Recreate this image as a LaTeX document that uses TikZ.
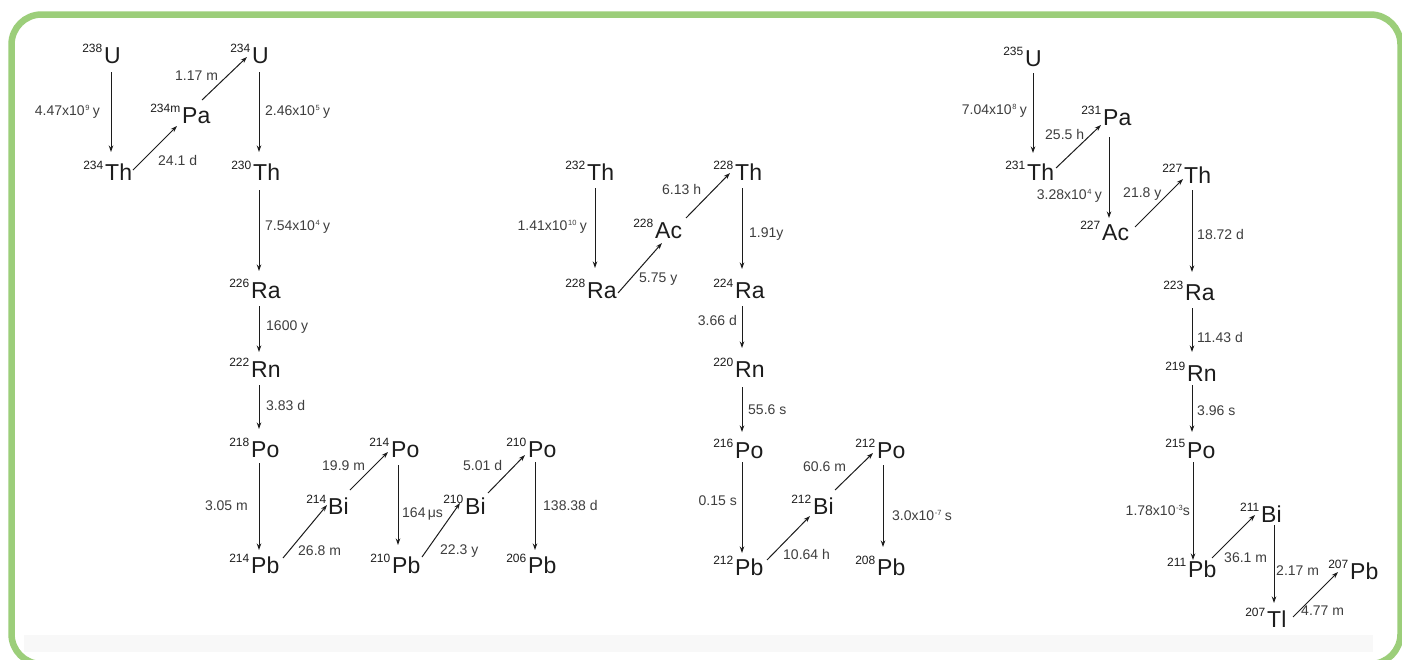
\documentclass[tikz,border=0pt]{standalone}
\usepackage{fontspec}
\setmainfont{Liberation Sans}
\usetikzlibrary{arrows.meta}

\definecolor{framegreen}{RGB}{156,206,122}
\definecolor{ink}{RGB}{28,28,28}
\definecolor{lbl}{RGB}{62,62,62}
\definecolor{band}{RGB}{248,248,248}

% power of ten with a small raised exponent, as in the half-life labels
\newcommand{\tenpow}[1]{x10\kern0.6pt\raisebox{5.5pt}{\fontsize{7.5}{7.5}\selectfont #1}}
% one nuclide: element symbol node plus its mass-number node
\newcommand{\nuclide}[5]{%
  \node[nuc] (#1) at (#2,#3) {#5};
  \node[mass] (#1-A) at ([shift={(-1.5,-10.5)}]#1.base west) {#4};}

\begin{document}
\begin{tikzpicture}[x=1pt,y=-1pt,
  nuc/.style={anchor=base west, inner sep=0pt, font=\fontsize{23}{23}\selectfont, text=ink},
  mass/.style={anchor=base east, inner sep=0pt, font=\fontsize{12}{12}\selectfont, text=ink},
  hl/.style={inner sep=0pt, font=\fontsize{14}{14}\selectfont, text=lbl},
  lft/.style={hl, anchor=mid east},
  rgt/.style={hl, anchor=mid west},
  decay/.style={draw=ink, line width=1pt, -{Stealth[length=6.5pt,width=4.5pt]}},
]
\useasboundingbox (0,0) rectangle (1402,659);
\clip (0,0) rectangle (1402,659);

% panel
\fill[white] (0,0) rectangle (1402,659);
\fill[band] (24,635) rectangle (1373,652);
\draw[framegreen, line width=6.5pt, rounded corners=30pt] (11.5,14.5) rectangle (1400.5,664);

% ---- uranium-238 series ----
\nuclide{U238}{104}{63}{238}{U}
\nuclide{Th234}{105}{180}{234}{Th}
\nuclide{Pa234}{182}{123}{234m}{Pa}
\nuclide{U234}{252}{63}{234}{U}
\nuclide{Th230}{253}{180}{230}{Th}
\nuclide{Ra226}{251}{298}{226}{Ra}
\nuclide{Rn222}{251}{377}{222}{Rn}
\nuclide{Po218}{251}{457}{218}{Po}
\nuclide{Pb214}{251}{573}{214}{Pb}
\nuclide{Bi214}{328}{514}{214}{Bi}
\nuclide{Po214}{391}{457}{214}{Po}
\nuclide{Pb210}{392}{573}{210}{Pb}
\nuclide{Bi210}{465}{514}{210}{Bi}
\nuclide{Po210}{528}{457}{210}{Po}
\nuclide{Pb206}{528}{573}{206}{Pb}

\draw[decay] ([shift={(7,9)}]U238.base west) -- ([shift={(6,-28)}]Th234.base west);
\draw[decay] ([shift={(28,-10)}]Th234.base west) -- ([shift={(-5,3)}]Pa234.base west);
\draw[decay] ([shift={(20,-23)}]Pa234.base west) -- ([shift={(-5,-6)}]U234.base west);
\draw[decay] ([shift={(7,9)}]U234.base west) -- ([shift={(6,-28)}]Th230.base west);
\draw[decay] ([shift={(6,10)}]Th230.base west) -- ([shift={(8,-27)}]Ra226.base west);
\draw[decay] ([shift={(8,8)}]Ra226.base west) -- ([shift={(8,-25)}]Rn222.base west);
\draw[decay] ([shift={(8,8)}]Rn222.base west) -- ([shift={(8,-28)}]Po218.base west);
\draw[decay] ([shift={(8,6)}]Po218.base west) -- ([shift={(8,-23)}]Pb214.base west);
\draw[decay] ([shift={(32,-15)}]Pb214.base west) -- ([shift={(-1,-9)}]Bi214.base west);
\draw[decay] ([shift={(22,-24)}]Bi214.base west) -- ([shift={(-3,-5)}]Po214.base west);
\draw[decay] ([shift={(7,8)}]Po214.base west) -- ([shift={(6,-28)}]Pb210.base west);
\draw[decay] ([shift={(30,-16)}]Pb210.base west) -- ([shift={(-5,-11)}]Bi210.base west);
\draw[decay] ([shift={(23,-21)}]Bi210.base west) -- ([shift={(-3,-2)}]Po210.base west);
\draw[decay] ([shift={(7,5)}]Po210.base west) -- ([shift={(7,-23)}]Pb206.base west);

\node[lft] (h1) at (100,113) {4.47\tenpow{9}\kern1pt\,y};
\node[rgt] (h2) at (158,163) {24.1 d};
\node[rgt] (h3) at (175,78) {1.17 m};
\node[rgt] (h4) at (265,113) {2.46\tenpow{5}\kern1pt\,y};
\node[rgt] (h5) at (265,228) {7.54\tenpow{4}\kern1pt\,y};
\node[rgt] (h6) at (266,328) {1600 y};
\node[rgt] (h7) at (266,408) {3.83 d};
\node[lft] (h8) at (248,508) {3.05 m};
\node[rgt] (h9) at (298,553) {26.8 m};
\node[rgt] (h10) at (322,468) {19.9 m};
\node[rgt] (h11) at (402,515) {164\,μs};
\node[rgt] (h12) at (440,552) {22.3 y};
\node[rgt] (h13) at (463,468) {5.01 d};
\node[rgt] (h14) at (543,508) {138.38 d};

% ---- thorium-232 series ----
\nuclide{Th232}{587}{180}{232}{Th}
\nuclide{Ra228}{587}{298}{228}{Ra}
\nuclide{Ac228}{655}{238}{228}{Ac}
\nuclide{Th228}{735}{180}{228}{Th}
\nuclide{Ra224}{735}{298}{224}{Ra}
\nuclide{Rn220}{735}{377}{220}{Rn}
\nuclide{Po216}{735}{458}{216}{Po}
\nuclide{Pb212}{735}{575}{212}{Pb}
\nuclide{Bi212}{813}{514}{212}{Bi}
\nuclide{Po212}{877}{458}{212}{Po}
\nuclide{Pb208}{877}{575}{208}{Pb}

\draw[decay] ([shift={(8,8)}]Th232.base west) -- ([shift={(8,-30)}]Ra228.base west);
\draw[decay] ([shift={(31,-5)}]Ra228.base west) -- ([shift={(7,5)}]Ac228.base west);
\draw[decay] ([shift={(31,-20)}]Ac228.base west) -- ([shift={(-5,-7)}]Th228.base west);
\draw[decay] ([shift={(7,8)}]Th228.base west) -- ([shift={(7,-29)}]Ra224.base west);
\draw[decay] ([shift={(7,8)}]Ra224.base west) -- ([shift={(7,-29)}]Rn220.base west);
\draw[decay] ([shift={(7,10)}]Rn220.base west) -- ([shift={(7,-26)}]Po216.base west);
\draw[decay] ([shift={(7,4)}]Po216.base west) -- ([shift={(7,-22)}]Pb212.base west);
\draw[decay] ([shift={(32,-15)}]Pb212.base west) -- ([shift={(-3,2)}]Bi212.base west);
\draw[decay] ([shift={(22,-24)}]Bi212.base west) -- ([shift={(-4,-5)}]Po212.base west);
\draw[decay] ([shift={(6,7)}]Po212.base west) -- ([shift={(6,-28)}]Pb208.base west);

\node[lft] (k1) at (587,228) {1.41\tenpow{10}\kern1pt\,y};
\node[rgt] (k2) at (639,280) {5.75 y};
\node[rgt] (k3) at (662,192) {6.13 h};
\node[rgt] (k4) at (749,235) {1.91y};
\node[lft] (k5) at (737,323) {3.66 d};
\node[rgt] (k6) at (748,412) {55.6 s};
\node[lft] (k7) at (737,503) {0.15 s};
\node[rgt] (k8) at (783,557) {10.64 h};
\node[rgt] (k9) at (803,469) {60.6 m};
\node[rgt] (k10) at (892,518) {3.0\tenpow{-7}\kern1pt\,s};

% ---- uranium-235 series ----
\nuclide{U235}{1025}{66}{235}{U}
\nuclide{Th231}{1027}{180}{231}{Th}
\nuclide{Pa231}{1103}{125}{231}{Pa}
\nuclide{Ac227}{1102}{240}{227}{Ac}
\nuclide{Th227}{1184}{183}{227}{Th}
\nuclide{Ra223}{1185}{300}{223}{Ra}
\nuclide{Rn219}{1187}{381}{219}{Rn}
\nuclide{Po215}{1187}{458}{215}{Po}
\nuclide{Pb211}{1188}{577}{211}{Pb}
\nuclide{Bi211}{1261}{522}{211}{Bi}
\nuclide{Tl207}{1267}{627}{207}{Tl}
\nuclide{Pb207}{1350}{579}{207}{Pb}

\draw[decay] ([shift={(8,7)}]U235.base west) -- ([shift={(6,-27)}]Th231.base west);
\draw[decay] ([shift={(29,-12)}]Th231.base west) -- ([shift={(-2,0)}]Pa231.base west);
\draw[decay] ([shift={(6,12)}]Pa231.base west) -- ([shift={(7,-22)}]Ac227.base west);
\draw[decay] ([shift={(33,-13)}]Ac227.base west) -- ([shift={(-1,-4)}]Th227.base west);
\draw[decay] ([shift={(8,7)}]Th227.base west) -- ([shift={(7,-28)}]Ra223.base west);
\draw[decay] ([shift={(7,8)}]Ra223.base west) -- ([shift={(5,-29)}]Rn219.base west);
\draw[decay] ([shift={(5,4)}]Rn219.base west) -- ([shift={(5,-26)}]Po215.base west);
\draw[decay] ([shift={(6,4)}]Po215.base west) -- ([shift={(5,-17)}]Pb211.base west);
\draw[decay] ([shift={(24,-19)}]Pb211.base west) -- ([shift={(-6,-7)}]Bi211.base west);
\draw[decay] ([shift={(13,3)}]Bi211.base west) -- ([shift={(7,-24)}]Tl207.base west);
\draw[decay] ([shift={(26,-10)}]Tl207.base west) -- ([shift={(-12,-7)}]Pb207.base west);

\node[lft] (m1) at (1027,112) {7.04\tenpow{8}\kern1pt\,y};
\node[rgt] (m2) at (1045,137) {25.5 h};
\node[lft] (m3) at (1102,197) {3.28\tenpow{4}\kern1pt\,y};
\node[rgt] (m4) at (1123,195) {21.8 y};
\node[rgt] (m5) at (1197,237) {18.72 d};
\node[rgt] (m6) at (1197,340) {11.43 d};
\node[rgt] (m7) at (1197,413) {3.96 s};
\node[lft] (m8) at (1190,513) {1.78\tenpow{-3}s};
\node[rgt] (m9) at (1224,560) {36.1 m};
\node[rgt] (m10) at (1276,573) {2.17 m};
\node[rgt] (m11) at (1301,613) {4.77 m};
\end{tikzpicture}
\end{document}
